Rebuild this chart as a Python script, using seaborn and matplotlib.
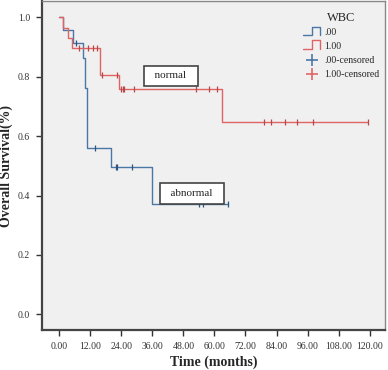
import numpy as np
import pandas as pd
import matplotlib
matplotlib.use("Agg")
import matplotlib.pyplot as plt
import seaborn as sns
from matplotlib.lines import Line2D
from matplotlib.legend_handler import HandlerBase

# Kaplan-Meier step points
blue_time = [0, 1.5, 5.5, 9.0, 10.0, 10.8, 20.0, 36.0, 65.3]
blue_surv = [1.0, 0.957, 0.914, 0.862, 0.761, 0.559, 0.497, 0.372, 0.372]
red_time = [0, 1.5, 3.5, 4.8, 15.7, 23.0, 63.0, 119.5]
red_surv = [1.0, 0.966, 0.931, 0.897, 0.806, 0.759, 0.647, 0.647]

# censored times
blue_cens = [6.5, 14.0, 22.0, 22.5, 28.2, 54.0, 55.4, 65.3]
red_cens = [7.5, 11.0, 13.0, 14.5, 16.5, 22.2, 24.0, 24.5, 25.0, 29.0,
            53.0, 58.0, 61.0, 79.0, 81.7, 87.2, 92.0, 98.0, 119.5]

group_names = [".00", "1.00"]
x_ticks = [0, 12, 24, 36, 48, 60, 72, 84, 96, 108, 120]
y_ticks = [0.0, 0.2, 0.4, 0.6, 0.8, 1.0]

BLUE = "#4a77a6"
RED = "#e06464"


def surv_at(times, surv, t):
    idx = np.searchsorted(times, t, side="right") - 1
    return np.asarray(surv)[idx]


curves = pd.concat([
    pd.DataFrame({"time": blue_time, "surv": blue_surv, "WBC": group_names[0]}),
    pd.DataFrame({"time": red_time, "surv": red_surv, "WBC": group_names[1]}),
])

sns.set_style("ticks")
plt.rcParams["font.family"] = ["Liberation Serif", "DejaVu Serif"]

fig = plt.figure(figsize=(3.88, 3.70), dpi=100)
ax = fig.add_axes([0.108, 0.108, 0.884, 0.889])
ax.set_facecolor("#f0f0f0")

sns.lineplot(data=curves, x="time", y="surv", hue="WBC",
             palette={group_names[0]: BLUE, group_names[1]: RED},
             drawstyle="steps-post", estimator=None, sort=False,
             linewidth=1.0, legend=False, ax=ax)

ax.plot(blue_cens, surv_at(blue_time, blue_surv, blue_cens), ls="none",
        marker="|", ms=4.5, mew=0.9, color="#2f557f")
ax.plot(red_cens, surv_at(red_time, red_surv, red_cens), ls="none",
        marker="|", ms=4.5, mew=0.9, color="#b84848")

ax.set_xlim(-6.7, 125.9)
ax.set_ylim(-0.053, 1.055)
ax.set_xticks(x_ticks)
ax.set_xticklabels([f"{v:.2f}" for v in x_ticks])
ax.set_yticks(y_ticks)
ax.set_yticklabels([f"{v:.1f}" for v in y_ticks])
ax.tick_params(labelsize=7, length=4, width=1, color="#333333",
               labelcolor="#333333", pad=4.5)

for s in ["left", "bottom"]:
    ax.spines[s].set_color("#444444")
    ax.spines[s].set_linewidth(1.6)
for s in ["top", "right"]:
    ax.spines[s].set_color("#888888")
    ax.spines[s].set_linewidth(1.0)

ax.set_xlabel("Time (months)", fontsize=10, fontweight="bold")
ax.set_ylabel("Overall Survival(%)", fontsize=10, fontweight="bold")
ax.xaxis.set_label_coords(0.5, -0.076)
ax.yaxis.set_label_coords(-0.084, 0.5)

box = dict(boxstyle="square,pad=0.5", fc="white", ec="#444444", lw=1.2)
ax.text(43.1, 0.804, "  normal  ", fontsize=8, ha="center", va="center", bbox=box)
ax.text(51.3, 0.407, "  abnormal  ", fontsize=8, ha="center", va="center", bbox=box)


class StepHandler(HandlerBase):
    def create_artists(self, legend, orig_handle, xdescent, ydescent,
                       width, height, fontsize, trans):
        x0 = -xdescent
        xs = [x0, x0 + 0.45 * width, x0 + 0.45 * width, x0 + 0.9 * width, x0 + 0.9 * width]
        ys = [-ydescent, -ydescent, -ydescent + 1.3 * height, -ydescent + 1.3 * height, -ydescent]
        ln = Line2D(xs, ys, color=orig_handle.get_color(), lw=1.0, transform=trans)
        return [ln]


h_blue = Line2D([], [], color=BLUE)
h_red = Line2D([], [], color=RED)
h_bc = Line2D([], [], color=BLUE, ls="none", marker="+", ms=9, mew=1.2)
h_rc = Line2D([], [], color=RED, ls="none", marker="+", ms=9, mew=1.2)
leg = ax.legend([h_blue, h_red, h_bc, h_rc],
                [".00", "1.00", ".00-censored", "1.00-censored"],
                handler_map={h_blue: StepHandler(), h_red: StepHandler()},
                title="WBC", loc="upper left", bbox_to_anchor=(0.735, 0.995),
                frameon=False, fontsize=7, title_fontsize=9,
                handlelength=2.0, handletextpad=0.2, labelspacing=0.5)

fig.savefig("out.png", dpi=100)
